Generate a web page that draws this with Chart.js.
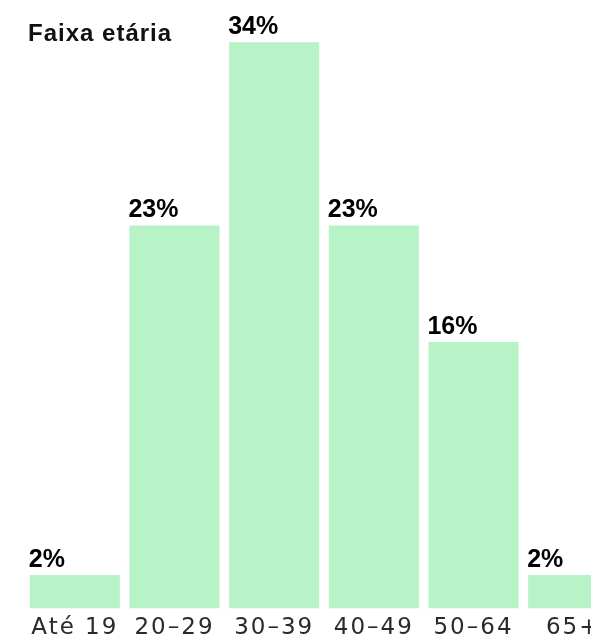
<!DOCTYPE html>
<html>
<head>
<meta charset="utf-8">
<script src="https://cdn.jsdelivr.net/npm/chart.js@4/dist/chart.umd.min.js"></script>
<style>
  html, body { margin: 0; padding: 0; background: #fff; }
  #wrap { position: relative; width: 591px; height: 638px; overflow: hidden; }
  #title { position: absolute; left: 28px; top: 19px; line-height: 1; font: bold 24px 'Liberation Sans', Arial, sans-serif; letter-spacing: 1px; color: #111; }
  canvas { position: absolute; left: 0; top: 0; }
</style>
</head>
<body>
<div id="wrap">
  <canvas id="chart" width="640" height="648"></canvas>
  <div id="title">Faixa etária</div>
</div>
<script>
const categories = ['Até 19', '20–29', '30–39', '40–49', '50–64', '65+'];
const shares = [2, 23, 34, 23, 16, 2];
const barColor = '#b8f2c7';

// wider spacing for the axis labels
const axisSpacing = {
    id: 'axisSpacing',
    beforeDraw(chart) { chart.ctx.letterSpacing = '2px'; }
};

// value labels above each bar, left aligned with the bar
const valueLabels = {
    id: 'valueLabels',
    afterDatasetsDraw(chart) {
        const ctx = chart.ctx;
        const meta = chart.getDatasetMeta(0);
        ctx.save();
        ctx.letterSpacing = '0px';
        ctx.font = 'bold 25px "Liberation Sans", Arial, sans-serif';
        ctx.fillStyle = '#000';
        ctx.textAlign = 'left';
        ctx.textBaseline = 'alphabetic';
        meta.data.forEach((bar, i) => {
            ctx.fillText(shares[i] + '%', bar.x - bar.width / 2 - 1, bar.y - 8.5);
        });
        ctx.restore();
    }
};

new Chart(document.getElementById('chart'), {
    type: 'bar',
    data: {
        labels: categories,
        datasets: [{ data: shares, backgroundColor: barColor, barPercentage: 0.9036, categoryPercentage: 1 }]
    },
    options: {
        responsive: false,
        animation: false,
        layout: { padding: { left: 25, right: 17, top: 9, bottom: 0 } },
        plugins: { legend: { display: false }, tooltip: { enabled: false } },
        scales: {
            y: { display: false, min: 0, max: 36 },
            x: {
                grid: { display: false, drawTicks: false },
                border: { display: false },
                ticks: { padding: 6, color: '#2a2a2a', font: { family: 'DejaVu Sans', size: 23, weight: 'normal' } }
            }
        }
    },
    plugins: [axisSpacing, valueLabels]
});
</script>
</body>
</html>
